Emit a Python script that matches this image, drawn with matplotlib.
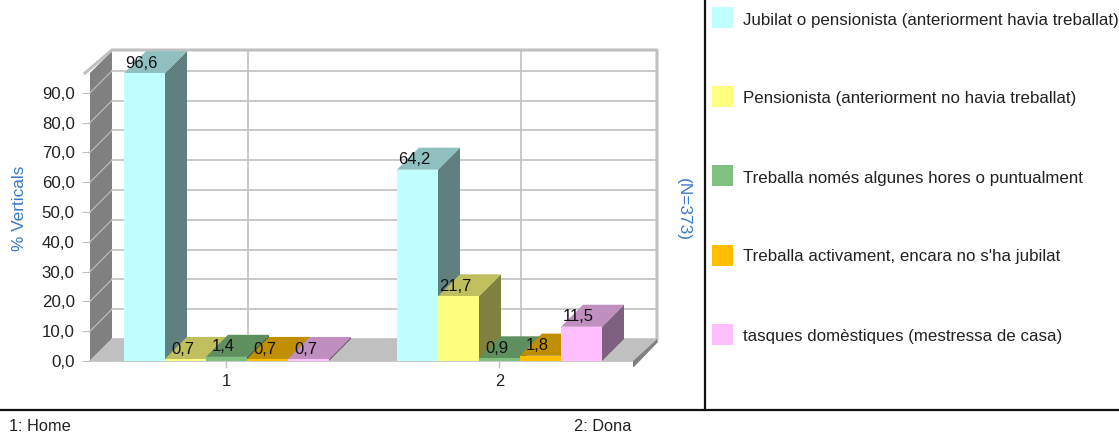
import matplotlib
matplotlib.use('Agg')
import matplotlib.pyplot as plt
from matplotlib.patches import Polygon, Rectangle

plt.rcParams['font.family'] = ['Liberation Sans', 'DejaVu Sans']

# Dades
grups = ['1', '2']
peu = ['1: Home', '2: Dona']
series = ['Jubilat o pensionista (anteriorment havia treballat)',
          'Pensionista (anteriorment no havia treballat)',
          'Treballa només algunes hores o puntualment',
          "Treballa activament, encara no s'ha jubilat",
          'tasques domèstiques (mestressa de casa)']
jubilat = [96.6, 64.2]
pensionista = [0.7, 21.7]
treballa_hores = [1.4, 0.9]
treballa_activ = [0.7, 1.8]
tasques = [0.7, 11.5]
valors = [jubilat, pensionista, treballa_hores, treballa_activ, tasques]
colors = ['#BFFFFF', '#FFFF7F', '#7FBF7F', '#FFBF00', '#FFBFFF']
yticks = [0, 10, 20, 30, 40, 50, 60, 70, 80, 90]

W, H = 1119, 436
fig = plt.figure(figsize=(W / 100, H / 100), dpi=100, facecolor='white')

# eixos: zona frontal del grafic, en pixels de la imatge
x0, x1, y_baix, y_dalt = 90, 633, 361, 73
ax = fig.add_axes([x0 / W, 1 - y_baix / H, (x1 - x0) / W, (y_baix - y_dalt) / H])
px_grup = 273.0
px_val = 2.98
ax.set_xlim((x0 - 226.5) / px_grup, (x1 - 226.5) / px_grup)
ax.set_ylim(0, (y_baix - y_dalt) / px_val)
xa, xb = ax.get_xlim()
ytop = ax.get_ylim()[1]
dx = 22 / px_grup  # profunditat 3D
dy = 22 / px_val
ample = 41 / px_grup
xr = xb + 24 / px_grup  # la paret del fons acaba una mica mes a la dreta


def pol(punts, color, z=1):
    ax.add_patch(Polygon(punts, closed=True, facecolor=color, edgecolor='none',
                         clip_on=False, zorder=z))


def fosc(color, f):
    r, g, b = matplotlib.colors.to_rgb(color)
    return (r * f, g * f, b * f)


# parets i terra
gris = '#C0C0C0'
pol([(xa, 0), (xa + dx, dy), (xa + dx, ytop + dy), (xa, ytop)], '#808080')
pol([(xa, 0), (xa + dx, dy), (xr, dy), (xb, 0)], gris)
for v in yticks:
    ax.plot([xa + dx, xr], [v + dy, v + dy], color=gris, lw=1.2, clip_on=False, zorder=1.5)
    ax.plot([xa, xa + dx], [v, v + dy], color=gris, lw=0.8, clip_on=False, zorder=1.5)
for i in range(len(grups)):
    ax.plot([i + dx, i + dx], [dy, ytop + dy], color=gris, lw=1.2, clip_on=False, zorder=1.5)
    ax.plot([i, i], [0, -6 / px_val], color=gris, lw=1, clip_on=False, zorder=1.5)
ax.plot([xa - 5 / px_grup, xa + dx, xr, xr], [ytop, ytop + dy + 1 / px_val, ytop + dy + 1 / px_val, dy],
        color=gris, lw=2.2, clip_on=False, zorder=1.6)
ax.plot([xa, xb], [0, 0], color=gris, lw=1.2, clip_on=False, zorder=1.6)
pol([(xr, dy), (xr + 1 / px_grup, dy - 3 / px_val), (xb + 1 / px_grup, -6 / px_val), (xb, -6 / px_val), (xb, 0)],
    '#808080', z=1.7)

# barres
for i in range(len(grups)):
    esq = i - ample * len(series) / 2
    for s, vals in enumerate(valors):
        v = vals[i]
        a = esq + s * ample
        b = a + ample
        c = colors[s]
        pol([(b, 0), (b + dx, dy), (b + dx, v + dy), (b, v)], fosc(c, 0.5), z=2 + s * 0.1)
        pol([(a, v), (a + dx, v + dy), (b + dx, v + dy), (b, v)], fosc(c, 0.75), z=2 + s * 0.1)
        ax.add_patch(Rectangle((a, 0), ample, v, facecolor=c, edgecolor='none', clip_on=False, zorder=2.05 + s * 0.1))
        ax.text(a + ample / 2 - 3 / px_grup, v + 3.3, f'{v:.1f}'.replace('.', ','), ha='center', va='center',
                fontsize=12, color='#111111', zorder=4, clip_on=False)

ax.set_xticks(range(len(grups)))
ax.set_xticklabels(grups, fontsize=11.8, color='#222222')
ax.set_yticks(yticks)
ax.set_yticklabels([f'{v:.1f}'.replace('.', ',') for v in yticks], fontsize=12.2, color='#222222')
ax.tick_params(axis='x', length=0, pad=9)
ax.tick_params(axis='y', length=6, color=gris, pad=5)
for sp in ax.spines.values():
    sp.set_visible(False)
ax.patch.set_alpha(0)


def fx(px):
    return px / W


def fy(py):
    return 1 - py / H


# titols d'eix
fig.text(fx(20), fy(208), '% Verticals', rotation=90, ha='center', va='center', fontsize=12.4, color='#3A78C8')
fig.text(fx(683), fy(209), '(N=373)', rotation=270, ha='center', va='center', fontsize=12.4, color='#3A78C8')

# llegenda
ys = [18, 97, 176, 255, 334]
for nom, c, y in zip(series, colors, ys):
    fig.patches.append(Rectangle((fx(712), fy(y + 10.5)), 21 / W, 21 / H, transform=fig.transFigure,
                                 facecolor=c, edgecolor='none', figure=fig))
    fig.text(fx(743), fy(y + 2), nom, ha='left', va='center', fontsize=12.2, color='#222222')

# separadors i peu
fig.add_artist(plt.Line2D([fx(705), fx(705)], [fy(0), fy(409)], color='#111111', lw=1.6))
fig.add_artist(plt.Line2D([0, 1], [fy(409.5), fy(409.5)], color='#111111', lw=1.6))
fig.text(fx(9), fy(426), peu[0], ha='left', va='center', fontsize=11.8, color='#222222')
fig.text(fx(574), fy(426), peu[1], ha='left', va='center', fontsize=11.8, color='#222222')

fig.savefig('out.png', dpi=100)
